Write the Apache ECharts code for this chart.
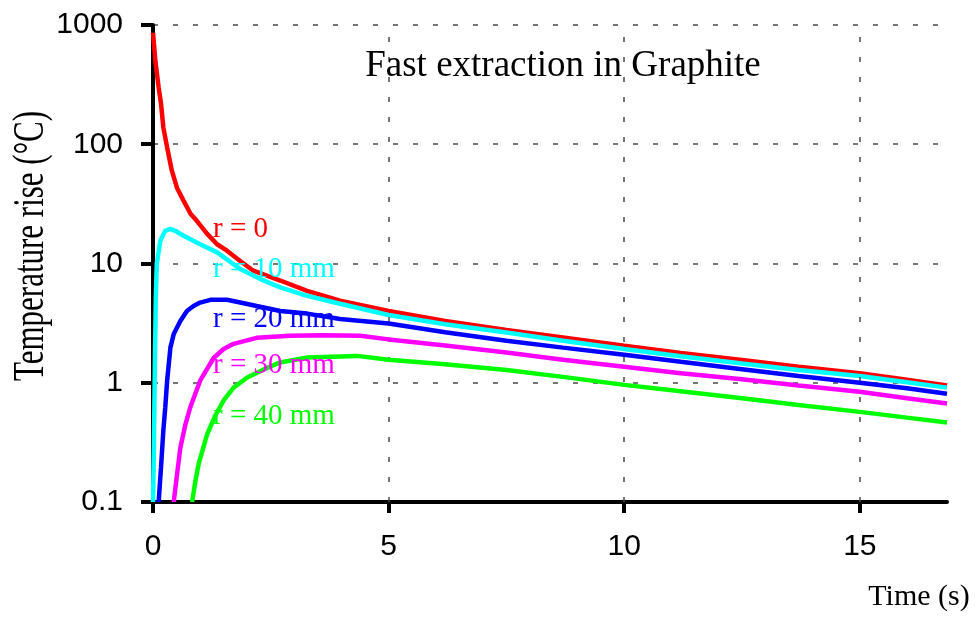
<!DOCTYPE html>
<html>
<head>
<meta charset="utf-8">
<script src="https://cdn.jsdelivr.net/npm/echarts@6/dist/echarts.min.js"></script>
<style>html,body{margin:0;padding:0;background:#fff}#c{width:976px;height:618px}</style>
</head>
<body>
<div id="c"></div>
<script>
// ---- data (time in s, temperature rise in °C) ----
const timeR0 = [0,0.05,0.12,0.17,0.22,0.30,0.40,0.51,0.65,0.80,0.93,1.15,1.36,1.57,1.85,2.13,2.7,3.27,3.97,5.0,6.2,7.5,8.7,10.0,11.2,12.5,13.7,15.0,16.0,16.85];
const tempR0 = [863,500,299,220,138,94,60,43,33.5,26,22.8,17.7,14.5,12.8,10.5,8.7,7.2,5.9,4.87,4.0,3.3,2.77,2.4,2.04,1.78,1.55,1.36,1.2,1.06,0.95];

const timeR10 = [0,0.02,0.04,0.06,0.08,0.155,0.26,0.37,0.47,0.65,1.0,1.36,1.85,2.28,2.7,3.27,3.97,5.0,6.2,7.5,8.7,10.0,11.2,12.5,13.7,15.0,16.0,16.85];
const tempR10 = [0.1,0.3,1.5,5.2,9.9,15.5,18.8,19.5,18.8,17.1,14.5,12.4,9.0,7.4,6.3,5.36,4.6,3.7,3.1,2.64,2.25,1.92,1.67,1.45,1.28,1.14,1.01,0.91];

const timeR20 = [0.12,0.17,0.22,0.26,0.30,0.37,0.44,0.58,0.72,0.86,1.0,1.22,1.57,1.85,2.2,2.7,3.27,3.97,5.0,6.2,7.5,8.7,10.0,11.2,12.5,13.7,15.0,16.0,16.85];
const tempR20 = [0.1,0.195,0.40,0.62,1.04,1.98,2.56,3.3,4.0,4.4,4.7,4.96,4.96,4.71,4.4,4.0,3.8,3.42,3.14,2.65,2.25,1.97,1.72,1.5,1.3,1.14,1.0,0.9,0.81];

const timeR30 = [0.44,0.51,0.58,0.69,0.79,1.0,1.29,1.5,1.71,2.2,2.9,3.6,4.4,5.0,6.2,7.5,8.7,10.0,11.2,12.5,13.7,15.0,16.0,16.85];
const tempR30 = [0.1,0.17,0.285,0.45,0.62,1.04,1.62,1.92,2.12,2.38,2.48,2.5,2.48,2.31,2.05,1.79,1.56,1.36,1.2,1.07,0.95,0.84,0.74,0.67];

const timeR40 = [0.83,0.9,0.97,1.15,1.32,1.5,1.71,1.99,2.36,2.7,3.28,4.33,5.0,6.2,7.5,8.7,10.0,11.2,12.5,13.7,15.0,16.0,16.85];
const tempR40 = [0.1,0.15,0.21,0.37,0.53,0.71,0.91,1.1,1.3,1.48,1.63,1.68,1.56,1.43,1.28,1.12,0.96,0.85,0.74,0.65,0.57,0.51,0.465];

const seriesNames = ['r = 0', 'r = 10 mm', 'r = 20 mm', 'r = 30 mm', 'r = 40 mm'];
const seriesColors = ['#ff0000', '#00ffff', '#0000ff', '#ff00ff', '#00ff00'];
const xTickValues = [0, 5, 10, 15];
const xGridValues = [5, 10, 15];
const yTickValues = [0.1, 1, 10, 100, 1000];
const titleText = 'Fast extraction in Graphite';
const xAxisName = 'Time (s)';
const yAxisName = 'Temperature rise (\u00B0C)';

const zip = (a, b) => a.map((v, i) => [v, b[i]]);
const allData = [zip(timeR0, tempR0), zip(timeR10, tempR10), zip(timeR20, tempR20), zip(timeR30, tempR30), zip(timeR40, tempR40)];

const chart = echarts.init(document.getElementById('c'), null, {renderer: 'canvas'});

const serif = 'Liberation Serif';
const sans = 'Liberation Sans';
const labelY = [229, 269, 319, 365, 416];

const series = [{
  type: 'line', data: [], silent: true, z: 1,
  markLine: {
    silent: true, symbol: 'none', label: {show: false}, animation: false,
    lineStyle: {color: '#4a4a4a', type: [5, 15], width: 1.5},
    data: xGridValues.map(v => ({xAxis: v}))
  }
}].concat(allData.map((d, i) => ({
  name: seriesNames[i], type: 'line', data: d, showSymbol: false, symbol: 'none',
  color: seriesColors[i], lineStyle: {width: 4.5, color: seriesColors[i]}, z: 3 + i
})));

chart.setOption({
  animation: false,
  backgroundColor: '#fff',
  title: {
    text: titleText, left: 558, top: 43, textAlign: 'center',
    textStyle: {fontFamily: serif, fontSize: 37, fontWeight: 'normal', color: '#000'}
  },
  grid: {left: 153, right: 29, top: 25, bottom: 116, containLabel: false},
  xAxis: {
    type: 'value', min: 0, max: 16.85,
    axisLine: {show: true, lineStyle: {color: '#000', width: 4}},
    axisTick: {show: true, length: 11, lineStyle: {color: '#000', width: 4}, customValues: xTickValues},
    axisLabel: {show: true, fontFamily: sans, fontSize: 30, color: '#000', margin: 30, customValues: xTickValues},
    splitLine: {show: false}
  },
  yAxis: {
    type: 'log', logBase: 10, min: 0.1, max: 1000,
    axisLine: {show: true, lineStyle: {color: '#000', width: 4}},
    axisTick: {show: true, length: 12, lineStyle: {color: '#000', width: 4}},
    axisLabel: {fontFamily: sans, fontSize: 30, color: '#000', margin: 30,
      formatter: v => { const m = yTickValues.find(t => Math.abs(t - v) / t < 1e-6); return m === undefined ? '' : String(m); }},
    splitLine: {show: true, lineStyle: {color: '#4a4a4a', type: [5, 15], width: 1.5}}
  },
  series: series,
  graphic: [
    {type: 'text', x: 919, y: 597, style: {text: xAxisName, font: '30px "' + serif + '"', fill: '#000', align: 'center', verticalAlign: 'middle'}},
    {type: 'text', x: 32, y: 246, rotation: Math.PI / 2, scaleY: 1.4,
      style: {text: yAxisName, font: '31px "' + serif + '"', fill: '#000', align: 'center', verticalAlign: 'middle'}}
  ].concat(seriesNames.map((n, i) => ({
    type: 'text', x: 213, y: labelY[i], z: 100,
    style: {text: n, font: '29px "' + serif + '"', fill: seriesColors[i], align: 'left', verticalAlign: 'middle'}
  })))
});
</script>
</body>
</html>
